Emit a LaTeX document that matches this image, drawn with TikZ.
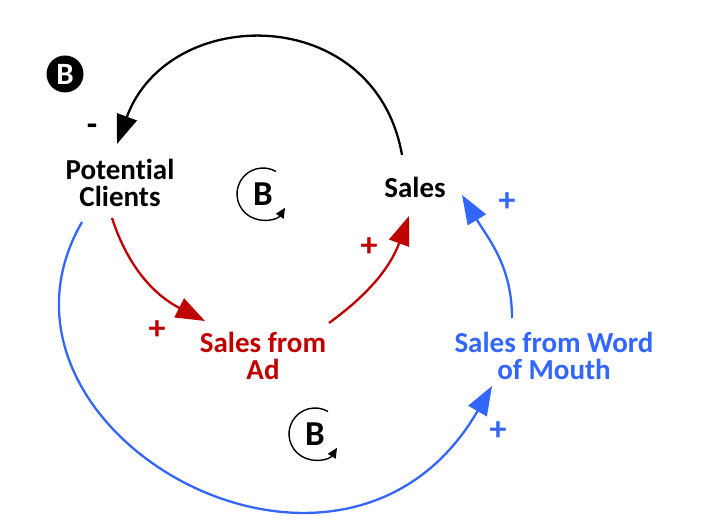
\documentclass[tikz,border=0pt]{standalone}
\usepackage{fontspec}
\setmainfont{Carlito}[Ligatures=NoCommon]
\usepackage{xcolor}
\usetikzlibrary{arrows.meta,calc}
\definecolor{adred}{RGB}{192,0,0}
\definecolor{womblue}{RGB}{51,102,255}
\tikzstyle{varname} = [font=\fontsize{29}{27}\selectfont\bfseries,align=center,
  inner sep=0pt]
\tikzstyle{signmark} = [font=\fontsize{34}{34}\selectfont\bfseries,inner sep=0pt]
\tikzstyle{loopletter} = [font=\fontsize{35}{35}\selectfont\bfseries,inner sep=0pt]
\tikzstyle{linkarrow} = [line width=2.3pt,-{Triangle[length=29pt,width=21pt]}]
\tikzstyle{looparrow} = [line width=1.4pt,-{Triangle[length=10pt,width=9pt]}]

\begin{document}
\begin{tikzpicture}[x=1pt,y=1pt]
  \useasboundingbox (0,0) rectangle (704,522);
  \node [circle,fill=black,minimum size=37pt,inner sep=0pt,text=white,
    font=\fontsize{31}{31}\selectfont\bfseries] (tag) at (65,448) {B};
  % variables
  \node [varname] (pc) at (120,339) {Potential\\Clients};
  \node [varname] (sales) at (415,335) {Sales};
  \node [varname,text=adred] (ad) at (263,166) {Sales from\\Ad};
  \node [varname,text=womblue] (wom) at (554,166) {Sales from Word\\of Mouth};
  % loop markers
  \node [loopletter] (loopa) at (263,328) {B};
  \node [loopletter] (loopb) at (315,88) {B};
  \draw [looparrow] ($(loopa)+(60:26)$) arc[start angle=60,end angle=328,radius=26];
  \draw [looparrow] ($(loopb)+(60:26)$) arc[start angle=60,end angle=328,radius=26];
  % links
  \draw [linkarrow] ($(sales)+(-13,32)$) to[out=100,in=70,out distance=155pt,
    in distance=150pt] ($(pc)+(-3,39)$);
  \draw [linkarrow,adred] ($(pc)+(-8,-35)$) to[out=-72,in=153] ($(ad)+(-58,35)$);
  \draw [linkarrow,adred] ($(ad)+(66,33)$) to[out=36,in=-110] ($(sales)+(-6,-29)$);
  \draw [linkarrow,womblue] ($(pc)+(-38,-39)$) to[out=-120,in=240,
    out distance=240pt,in distance=300pt] ($(wom)+(-62,-30)$);
  \draw [linkarrow,womblue] ($(wom)+(-42,38)$) to[out=90,in=-59] ($(sales)+(47,-8)$);
  % polarities
  \node [signmark] (m1) at (92,392) {-};
  \node [signmark,text=adred] (p1) at (157,192) {+};
  \node [signmark,text=adred] (p2) at (369,275) {+};
  \node [signmark,text=womblue] (p3) at (507,320) {+};
  \node [signmark,text=womblue] (p4) at (498,91) {+};
\end{tikzpicture}
\end{document}
